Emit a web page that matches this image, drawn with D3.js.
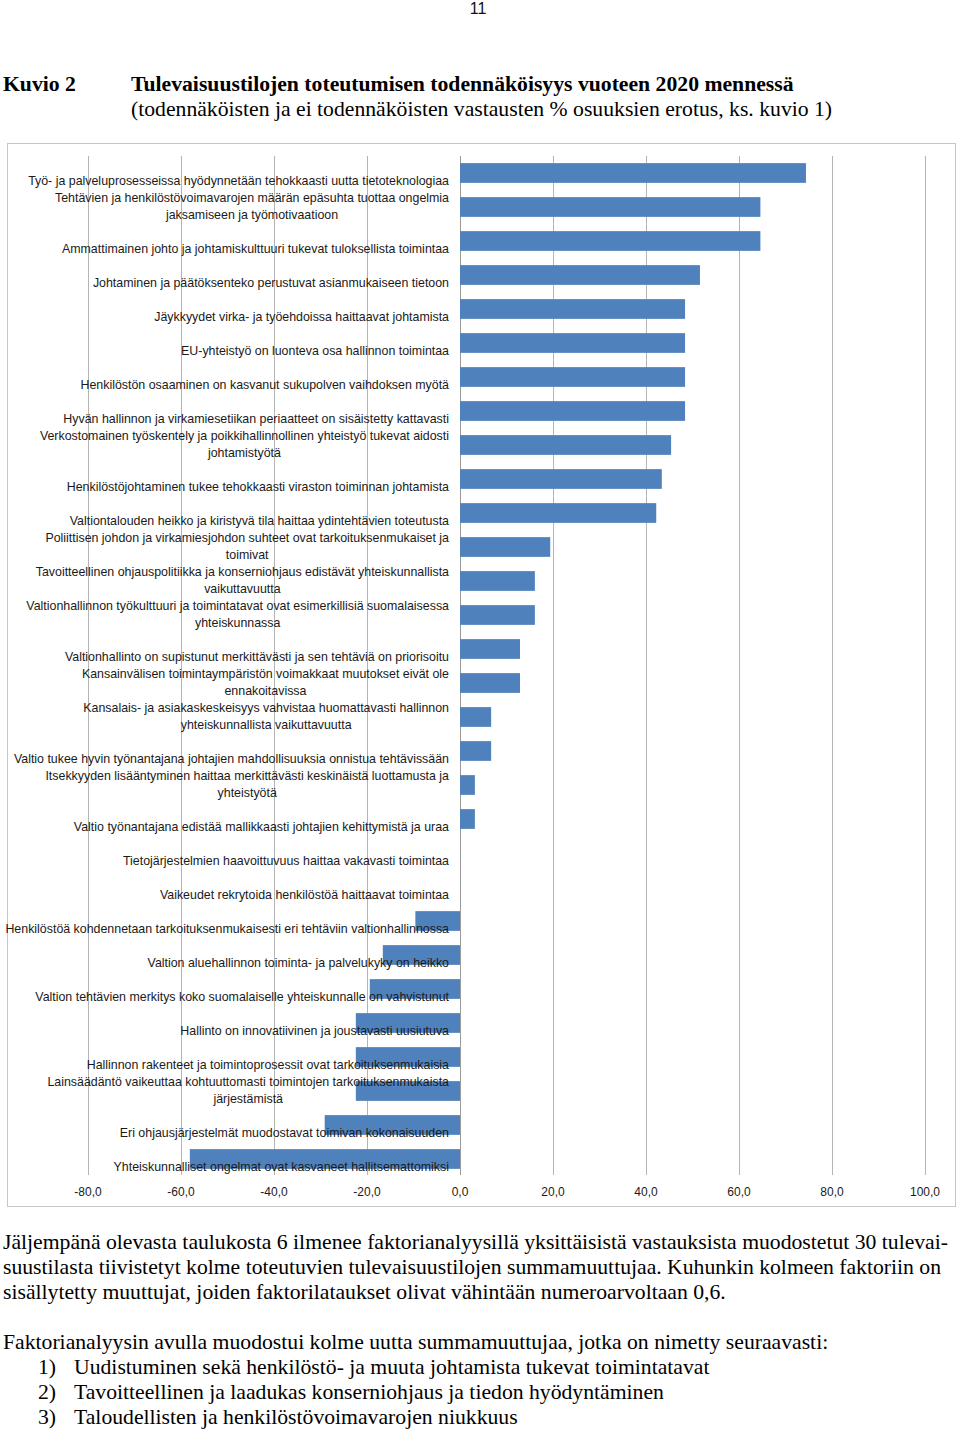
<!DOCTYPE html>
<html><head><meta charset="utf-8">
<script src="https://cdn.jsdelivr.net/npm/d3@7"></script>
<style>
html,body{margin:0;padding:0;background:#fff;}
svg{display:block;}
</style></head>
<body>
<svg id="page" width="960" height="1431"></svg>
<script>
// ---- data ----
const categories = [
  "Työ- ja palveluprosesseissa hyödynnetään tehokkaasti uutta tietoteknologiaa",
  "Tehtävien ja henkilöstövoimavarojen määrän epäsuhta tuottaa ongelmia\njaksamiseen ja työmotivaatioon",
  "Ammattimainen johto ja johtamiskulttuuri tukevat tuloksellista toimintaa",
  "Johtaminen ja päätöksenteko perustuvat asianmukaiseen tietoon",
  "Jäykkyydet virka- ja työehdoissa haittaavat johtamista",
  "EU-yhteistyö on luonteva osa hallinnon toimintaa",
  "Henkilöstön osaaminen on kasvanut sukupolven vaihdoksen myötä",
  "Hyvän hallinnon ja virkamiesetiikan periaatteet on sisäistetty kattavasti",
  "Verkostomainen työskentely ja poikkihallinnollinen yhteistyö tukevat aidosti\njohtamistyötä",
  "Henkilöstöjohtaminen tukee tehokkaasti viraston toiminnan johtamista",
  "Valtiontalouden heikko ja kiristyvä tila haittaa ydintehtävien toteutusta",
  "Poliittisen johdon ja virkamiesjohdon suhteet ovat tarkoituksenmukaiset ja\ntoimivat",
  "Tavoitteellinen ohjauspolitiikka ja konserniohjaus edistävät yhteiskunnallista\nvaikuttavuutta",
  "Valtionhallinnon työkulttuuri ja toimintatavat ovat esimerkillisiä suomalaisessa\nyhteiskunnassa",
  "Valtionhallinto on supistunut merkittävästi ja sen tehtäviä on priorisoitu",
  "Kansainvälisen toimintaympäristön voimakkaat muutokset eivät ole\nennakoitavissa",
  "Kansalais- ja asiakaskeskeisyys vahvistaa huomattavasti hallinnon\nyhteiskunnallista vaikuttavuutta",
  "Valtio tukee hyvin työnantajana johtajien mahdollisuuksia onnistua tehtävissään",
  "Itsekkyyden lisääntyminen haittaa merkittävästi keskinäistä luottamusta ja\nyhteistyötä",
  "Valtio työnantajana edistää mallikkaasti johtajien kehittymistä ja uraa",
  "Tietojärjestelmien haavoittuvuus haittaa vakavasti toimintaa",
  "Vaikeudet rekrytoida henkilöstöä haittaavat toimintaa",
  "Henkilöstöä kohdennetaan tarkoituksenmukaisesti eri tehtäviin valtionhallinnossa",
  "Valtion aluehallinnon toiminta- ja palvelukyky on heikko",
  "Valtion tehtävien merkitys koko suomalaiselle yhteiskunnalle on vahvistunut",
  "Hallinto on innovatiivinen ja joustavasti uusiutuva",
  "Hallinnon rakenteet ja toimintoprosessit ovat tarkoituksenmukaisia",
  "Lainsäädäntö vaikeuttaa kohtuuttomasti toimintojen tarkoituksenmukaista\njärjestämistä",
  "Eri ohjausjärjestelmät muodostavat toimivan kokonaisuuden",
  "Yhteiskunnalliset ongelmat ovat kasvaneet hallitsemattomiksi"
];
const values = [
  74.4, 64.6, 64.6, 51.6, 48.4, 48.4, 48.4, 48.4, 45.4, 43.4,
  42.2, 19.4, 16.1, 16.1, 12.9, 12.9, 6.7, 6.7, 3.2, 3.2,
  0, 0, -9.6, -16.6, -19.4, -22.4, -22.4, -22.4, -29.1, -58.1
];
const tickValues = [-80, -60, -40, -20, 0, 20, 40, 60, 80, 100];
const tickLabels = ["-80,0", "-60,0", "-40,0", "-20,0", "0,0", "20,0", "40,0", "60,0", "80,0", "100,0"];

const pageNumber = "11";
const figureLabel = "Kuvio 2";
const titleLine1 = "Tulevaisuustilojen toteutumisen todennäköisyys vuoteen 2020 mennessä";
const titleLine2 = "(todennäköisten ja ei todennäköisten vastausten % osuuksien erotus, ks. kuvio 1)";
const paragraph1 = [
  "Jäljempänä olevasta taulukosta 6 ilmenee faktorianalyysillä yksittäisistä vastauksista muodostetut 30 tulevai-",
  "suustilasta tiivistetyt kolme toteutuvien tulevaisuustilojen summamuuttujaa. Kuhunkin kolmeen faktoriin on",
  "sisällytetty muuttujat, joiden faktorilataukset olivat vähintään numeroarvoltaan 0,6."
];
const paragraph2 = "Faktorianalyysin avulla muodostui kolme uutta summamuuttujaa, jotka on nimetty seuraavasti:";
const listNumbers = ["1)", "2)", "3)"];
const listItems = [
  "Uudistuminen sekä henkilöstö- ja muuta johtamista tukevat toimintatavat",
  "Tavoitteellinen ja laadukas konserniohjaus ja tiedon hyödyntäminen",
  "Taloudellisten ja henkilöstövoimavarojen niukkuus"
];

// ---- drawing ----
const svg = d3.select("#page");
const serif = "'Liberation Serif','Times New Roman',serif";
const sans = "'Liberation Sans',Arial,sans-serif";
const serifSize = 21.7;

// page number
svg.append("text").attr("x", 478).attr("y", 14).attr("text-anchor", "middle")
  .attr("font-family", sans).attr("font-size", 16).attr("fill", "#111").text(pageNumber);

// heading
svg.append("text").attr("x", 3).attr("y", 91).attr("font-family", serif)
  .attr("font-size", serifSize).attr("font-weight", "bold").attr("fill", "#000").text(figureLabel);
svg.append("text").attr("x", 131).attr("y", 91).attr("font-family", serif)
  .attr("font-size", serifSize).attr("font-weight", "bold").attr("fill", "#000").text(titleLine1);
svg.append("text").attr("x", 131).attr("y", 116).attr("font-family", serif)
  .attr("font-size", serifSize).attr("fill", "#000").text(titleLine2);

// chart frame
svg.append("rect").attr("x", 7.5).attr("y", 143.5).attr("width", 948).attr("height", 1063)
  .attr("fill", "#fff").attr("stroke", "#c6c6c6").attr("stroke-width", 1);

const x = d3.scaleLinear().domain([-80, 100]).range([88, 925]);
const y = d3.scaleBand().domain(d3.range(categories.length)).range([156, 1176]).paddingInner(0.42).paddingOuter(0.21);

const plotTop = 156, plotBottom = 1175;

// gridlines
svg.append("g").selectAll("line").data(tickValues).join("line")
  .attr("x1", d => Math.round(x(d)) + 0.5).attr("x2", d => Math.round(x(d)) + 0.5)
  .attr("y1", plotTop).attr("y2", plotBottom)
  .attr("stroke", d => d === 0 ? "#9a9a9a" : "#b4b4b4").attr("stroke-width", 1);

// bars
svg.append("g").selectAll("rect").data(values).join("rect")
  .attr("x", d => x(Math.min(0, d)))
  .attr("width", d => Math.abs(x(d) - x(0)))
  .attr("y", (d, i) => y(i))
  .attr("height", y.bandwidth())
  .attr("fill", "#4F81BD");

// category labels
const labelRight = 449;
const lg = svg.append("g").attr("font-family", sans).attr("font-size", 12.4).attr("fill", "#1a1a1a");
categories.forEach((c, i) => {
  const lines = c.split("\n");
  const center = y(i) + y.bandwidth() / 2;
  const lastBaseline = center + 12;
  const g = lg.append("g");
  const texts = lines.map((ln, k) => g.append("text")
    .attr("y", lastBaseline - (lines.length - 1 - k) * 17)
    .attr("text-anchor", "middle").text(ln));
  const maxW = d3.max(texts, t => t.node().getComputedTextLength());
  texts.forEach(t => t.attr("x", labelRight - maxW / 2));
});

// tick labels
svg.append("g").selectAll("text").data(tickValues).join("text")
  .attr("x", d => x(d)).attr("y", 1196).attr("text-anchor", "middle")
  .attr("font-family", sans).attr("font-size", 12).attr("fill", "#1a1a1a")
  .text((d, i) => tickLabels[i]);

// body text
const body = svg.append("g").attr("font-family", serif).attr("font-size", serifSize).attr("fill", "#000");
paragraph1.forEach((ln, i) => {
  const t = body.append("text").attr("x", 3).attr("y", 1249 + i * 25).text(ln);
  if (i === 0) t.attr("textLength", 945).attr("lengthAdjust", "spacing");
  if (i === 1) t.attr("textLength", 938).attr("lengthAdjust", "spacing");
});
body.append("text").attr("x", 3).attr("y", 1349).text(paragraph2);
listItems.forEach((ln, i) => {
  body.append("text").attr("x", 38).attr("y", 1374 + i * 25).text(listNumbers[i]);
  body.append("text").attr("x", 74).attr("y", 1374 + i * 25).text(ln);
});
</script>
</body></html>
